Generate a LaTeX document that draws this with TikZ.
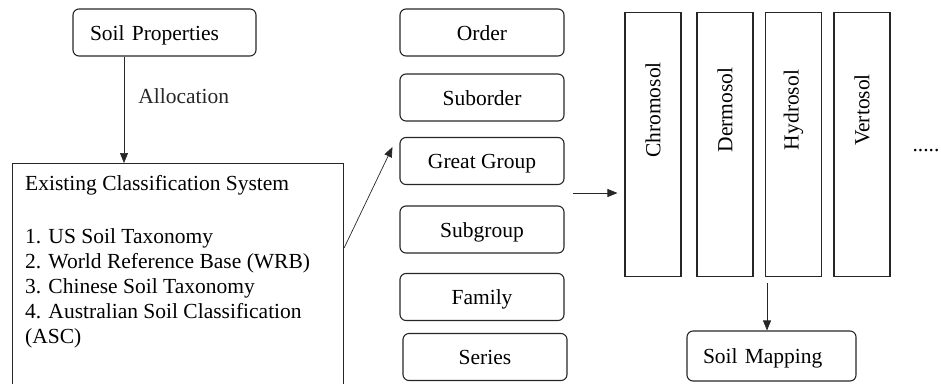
\documentclass[tikz,border=0pt]{standalone}
\usepackage{fontspec}
\setmainfont{Liberation Serif}
\usetikzlibrary{arrows.meta,positioning,calc}

\tikzset{
  rbox/.style={draw=black!85, line width=1.1pt, rounded corners=6pt, minimum height=47pt, inner sep=0pt, text height=15pt, text depth=0pt},
  sqbox/.style={draw=black!85, line width=1.1pt, inner sep=0pt},
  tallbox/.style={sqbox, minimum width=56pt, minimum height=264pt, anchor=north},
  arr/.style={-{Triangle[length=10pt,width=8pt]}, black!85, line width=0.7pt},
}

\begin{document}
\begin{tikzpicture}[x=1pt,y=-1pt,font=\fontsize{21.5}{25}\selectfont]
        % \draw[help lines,step=50] (0,0) grid (941,383);
        \useasboundingbox (0,0) rectangle (941,383);

        % left part
        \node[rbox, text width=149pt, inner xsep=17pt, align=left] (props) at (164.5,32.5) {Soil Properties};
        \node[sqbox, anchor=north west, minimum width=331pt, minimum height=225pt] (ecs) at (12,163) {};
        \node[anchor=north west, align=left, inner sep=0pt] (ecslist) at (25,175) {Existing Classification System\\[28pt]
          1. US Soil Taxonomy\\
          2. World Reference Base (WRB)\\
          3. Chinese Soil Taxonomy\\
          4. Australian Soil Classification\\
          (ASC)};

        % hierarchy levels
        \node[rbox, minimum width=164pt] (order) at (482,32.5) {Order};
        \node[rbox, minimum width=164pt] (suborder) at (482,97.5) {Suborder};
        \node[rbox, minimum width=164pt] (gg) at (482,161) {Great Group};
        \node[rbox, minimum width=164pt] (subgroup) at (482,229.5) {Subgroup};
        \node[rbox, minimum width=164pt] (family) at (482,297) {Family};
        \node[rbox, minimum width=164pt] (series) at (485,357) {Series};

        % soil orders (ASC)
        \node[tallbox] (chrom) at (653,12) {};
        \node[tallbox] (derm) at (725,12) {};
        \node[tallbox] (hydro) at (793.5,12) {};
        \node[tallbox] (vert) at (862,12) {};
        \node[rotate=90] (chromtxt) at ([yshift=-98pt]chrom.north) {Chromosol};
        \node[rotate=90] (dermtxt) at ([yshift=-98pt]derm.north) {Dermosol};
        \node[rotate=90] (hydrotxt) at ([yshift=-98pt]hydro.north) {Hydrosol};
        \node[rotate=90] (verttxt) at ([yshift=-98pt]vert.north) {Vertosol};
        \node (more) at (926,151) {.....};

        \node[rbox, minimum height=50pt, text width=137pt, inner xsep=16pt, align=left] (map) at (771.5,356) {Soil Mapping};

        % properties to classification system
        \coordinate (allocin) at ([xshift=-40.5pt]props.south);
        \draw[arr] (allocin) -- (allocin |- ecs.north)
          node[pos=0.37, anchor=west, inner sep=0pt, xshift=14pt] (alloc) {Allocation};

        % classification system to levels
        \draw[arr] ([yshift=-85pt]ecs.north east) -- ([xshift=-7pt,yshift=14pt]gg.west);

        % levels to soil orders
        \coordinate (ggout) at (573,193);
        \draw[arr, shorten >=7pt] (ggout) -- (ggout -| chrom.west);

        % soil orders to mapping
        \coordinate (mapin) at (767,283);
        \draw[arr] (mapin) -- (mapin |- map.north);

      \end{tikzpicture}
\end{document}
